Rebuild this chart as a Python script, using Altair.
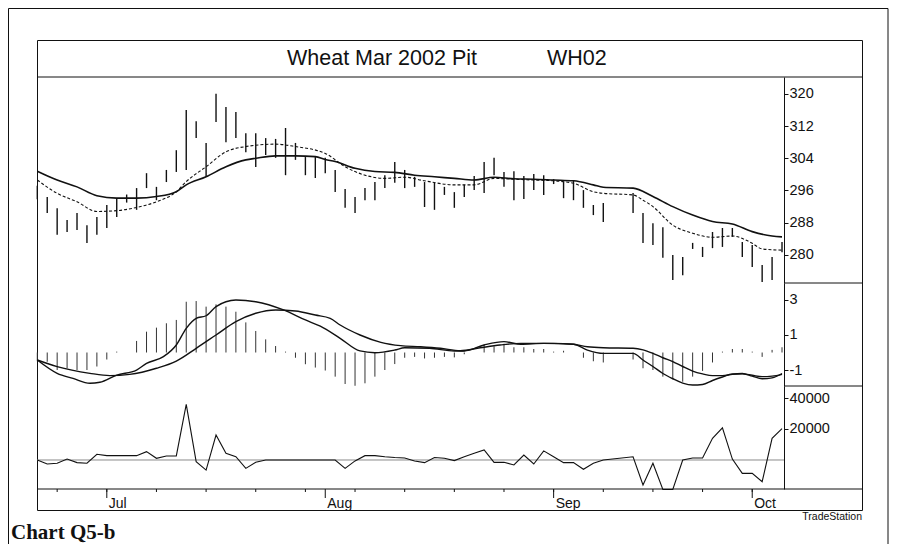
import altair as alt
import pandas as pd

# ---------------- data ----------------
bar_idx = list(range(76))
high = [297.2, 294.4, 291.6, 288.7, 290.4, 287.4, 289.4, 292.4, 294.1, 295.0,
        296.6, 300.3, 296.9, 301.1, 306.0, 316.0, 313.2, 307.8, 320.0, 316.7,
        315.5, 310.2, 310.2, 309.0, 308.8, 311.5, 307.8, 304.3, 304.3, 304.1,
        301.1, 296.4, 294.4, 296.6, 298.1, 299.8, 303.1, 301.1, 299.4, 298.1,
        297.9, 296.9, 295.6, 297.4, 299.6, 303.1, 304.1, 300.6, 300.8, 299.6,
        300.1, 299.8, 298.8, 298.1, 298.6, 296.1, 292.4, 292.9, None, None,
        295.4, 290.4, 287.9, 286.9, 280.0, 279.5, 283.0, 282.0, 285.7, 286.7,
        286.7, 283.2, 282.5, 277.5, 279.5, 283.2]
low = [293.8, 290.4, 285.0, 285.7, 286.2, 283.0, 285.0, 286.7, 289.4, 293.0,
       291.2, 296.6, 293.6, 298.1, 300.6, 301.1, 309.0, 299.4, 313.0, 308.0,
       309.0, 305.5, 301.8, 304.8, 304.1, 299.8, 303.6, 299.8, 299.1, 300.3,
       295.6, 291.7, 290.4, 293.6, 293.6, 296.6, 297.9, 296.6, 296.9, 291.9,
       291.2, 294.9, 291.7, 294.4, 296.1, 295.4, 299.8, 296.9, 293.6, 293.9,
       296.1, 294.9, 297.6, 294.1, 293.6, 291.7, 289.9, 288.2, None, None,
       290.4, 283.0, 282.5, 279.3, 273.8, 275.0, 281.5, 279.5, 281.7, 282.0,
       284.5, 279.5, 277.0, 273.3, 273.8, 280.7]

slow_idx = [0, 2, 4, 6, 8, 10, 12, 14, 15, 17, 19, 21, 22, 24, 26, 28, 29, 30, 32, 34,
            36, 38, 40, 42, 44, 46, 48, 50, 52, 54, 56, 57, 60, 62, 64, 66, 68, 70, 72, 74, 75]
slow_val = [300.8, 298.6, 296.9, 294.7, 294.1, 294.1, 294.5, 295.7, 297.4, 299.4, 301.9,
            303.6, 304.0, 304.6, 304.6, 304.4, 303.7, 303.2, 301.5, 300.7, 300.5, 299.8,
            299.4, 299.0, 298.6, 299.3, 298.9, 298.8, 298.6, 298.4, 297.4, 296.8, 296.6,
            294.5, 292.0, 289.9, 288.3, 287.7, 285.8, 284.7, 284.5]

fast_idx = [0, 2, 4, 6, 8, 10, 12, 14, 15, 17, 19, 21, 24, 26, 29, 31, 33, 35, 37, 39,
            42, 44, 46, 48, 50, 52, 54, 56, 57, 60, 61, 62, 64, 66, 68, 70, 72, 73, 75]
fast_val = [298.6, 295.3, 293.2, 290.8, 291.0, 291.8, 293.2, 295.7, 298.2, 301.9, 305.6,
            306.9, 307.5, 306.9, 305.2, 301.9, 299.8, 299.0, 299.3, 298.4, 297.4, 297.4,
            299.0, 298.8, 298.6, 298.4, 297.8, 295.7, 295.3, 294.9, 293.6, 292.0, 287.4,
            285.4, 284.4, 284.7, 282.9, 281.5, 281.2]

hist = [-0.5, -0.53, -1.0, -0.9, -1.0, -1.0, -0.8, -0.4, 0.05, 0.0,
        0.66, 1.19, 1.42, 1.67, 1.86, 2.9, 2.94, 2.62, 2.75, 2.62,
        2.33, 1.72, 1.23, 0.75, 0.37, 0.05, -0.3, -0.67, -0.86, -1.03,
        -1.38, -1.8, -1.9, -1.76, -1.38, -1.0, -0.66, -0.3, -0.25, -0.34,
        -0.3, -0.25, -0.28, -0.1, 0.0, 0.45, 0.35, 0.5, 0.3, 0.3,
        0.2, 0.2, 0.05, 0.1, 0.0, -0.3, -0.5, -0.57, None, None,
        -0.4, -0.9, -1.0, -1.38, -1.52, -1.67, -1.38, -1.05, -0.57, 0.05,
        0.2, 0.2, 0.05, -0.25, 0.15, 0.3]

macd_idx = [0, 2, 3.6, 5.3, 6.3, 8, 10, 11, 12.7, 14, 15, 16, 17, 18, 20, 22, 24.8, 27,
            28.5, 30.5, 32.5, 34, 36, 37, 39.5, 42, 43, 45, 47, 48.7, 51, 54, 55.4, 57,
            60, 61, 62, 63, 64, 65, 66, 67, 68, 69, 70, 71, 72, 73, 74, 75]
macd_val = [-0.43, -1.19, -1.48, -1.76, -1.7, -1.29, -1.0, -0.62, -0.24, 0.43, 1.38,
            1.95, 2.1, 2.62, 3.0, 2.9, 2.43, 1.86, 1.5, 0.81, 0.09, -0.01, 0.14, 0.27,
            0.24, 0.09, 0.09, 0.43, 0.62, 0.47, 0.52, 0.47, 0.14, -0.05, -0.05, -0.43,
            -0.8, -1.2, -1.5, -1.75, -1.86, -1.83, -1.6, -1.4, -1.22, -1.2, -1.35, -1.5,
            -1.45, -1.2]

sig_idx = [0, 2, 5.3, 7.3, 9.3, 12, 14, 16, 18, 20, 22, 24, 26, 28, 29.5, 30.5, 32.5,
           34.6, 36.6, 38.6, 40.6, 42.6, 44.6, 46.6, 48.7, 52, 54, 55.4, 57, 60, 61, 62,
           63, 64, 65, 66, 67, 68, 69, 70, 71, 72, 73, 74, 75]
sig_val = [-0.43, -0.81, -1.19, -1.32, -1.25, -0.9, -0.49, 0.24, 1.0, 1.76, 2.24, 2.43,
           2.37, 2.14, 1.95, 1.57, 1.0, 0.58, 0.39, 0.33, 0.24, 0.1, 0.27, 0.43, 0.52,
           0.52, 0.47, 0.33, 0.27, 0.24, 0.15, -0.05, -0.3, -0.52, -0.8, -1.06, -1.22,
           -1.32, -1.32, -1.25, -1.22, -1.3, -1.38, -1.35, -1.25]

vol_idx = list(range(58)) + list(range(60, 76))
vol_val = [0, -2600, -2100, 600, -1700, -2100, 3700, 2800, 2800, 2800,
           2800, 5400, 1100, 2600, 2600, 35900, -1100, -6500, 16100, 4300,
           2100, -5400, -1500, 0, 0, 0, 0, 0, 0, 0,
           0, -5400, -600, 2800, 2800, 2100, 1600, 1300, -600, -1700,
           1600, 1100, -400, 2100, 4300, 6500, -1500, -1500, -3200, 3200,
           -2600, 5900, 2100, -1700, -1700, -6000, -2100, 0,
           2100, -16100, -2100, -19000, -19000, 0, 1300, 1300, 14000, 20800,
           600, -8600, -8600, -14000, 14000, 20200]

week_ticks = [2, 7, 12, 17, 22, 27, 32, 37, 42, 47, 52, 57, 62, 67, 72]
month_ticks = [7, 29, 52, 72]
month_labels = ["Jul", "Aug", "Sep", "Oct"]

price_ticks = [280, 288, 296, 304, 312, 320]
macd_ticks = [-1, 1, 3]
vol_ticks = [20000, 40000]

title_left = "Wheat Mar 2002 Pit"
title_right = "WH02"
brand = "TradeStation"
caption = "Chart Q5-b"

# ---------------- layout constants ----------------
W, H = 825, 470          # inner box (plot area of the layered chart)
PW = 747                 # price/indicator plotting width
INK = "#111111"
FONT = "Liberation Sans"

xs = alt.Scale(domain=[-0.03, 75.2], range=[0, PW], nice=False, zero=False)
ps = alt.Scale(domain=[273.05, 324.16], range=[243, 37], nice=False, zero=False)
ms = alt.Scale(domain=[-1.914, 3.971], range=[346, 243], nice=False, zero=False)
vs = alt.Scale(domain=[-18710, 47742], range=[449, 346], nice=False, zero=False)


def raxis(values):
    return alt.Axis(orient="right", offset=-(W - PW), values=values, tickSize=4,
                    tickWidth=1, tickColor=INK, domainColor=INK, domainWidth=1,
                    labelFont=FONT, labelFontSize=14.5, labelColor=INK, labelPadding=1,
                    labelExpr="'' + datum.value", grid=False, title=None,
                    labelOverlap=False, labelFlush=False)


X = lambda: alt.X("idx:Q", scale=xs, axis=None)
one = pd.DataFrame({"k": [0]})

bars_df = pd.DataFrame({"idx": bar_idx, "high": high, "low": low}).dropna()
slow_df = pd.DataFrame({"idx": slow_idx, "v": slow_val})
fast_df = pd.DataFrame({"idx": fast_idx, "v": fast_val})
hist_df = pd.DataFrame({"idx": bar_idx, "h": hist}).dropna()
hist_df["zero"] = 0.0
macd_df = pd.DataFrame({"idx": macd_idx, "v": macd_val})
sig_df = pd.DataFrame({"idx": sig_idx, "v": sig_val})
vol_df = pd.DataFrame({"idx": vol_idx, "v": vol_val})
zero_df = pd.DataFrame({"zero": [0]})
week_df = pd.DataFrame({"idx": week_ticks})
month_df = pd.DataFrame({"idx": month_ticks, "label": month_labels})

# ---------------- layers ----------------
price_bars = alt.Chart(bars_df).mark_rule(color=INK, strokeWidth=1.4).encode(
    x=X(), y=alt.Y("high:Q", scale=ps, axis=raxis(price_ticks)), y2="low:Q")
slow_line = alt.Chart(slow_df).mark_line(color=INK, strokeWidth=1.6, interpolate="monotone").encode(
    x=X(), y=alt.Y("v:Q", scale=ps, axis=None))
fast_line = alt.Chart(fast_df).mark_line(color=INK, strokeWidth=1.1, strokeDash=[3, 2],
                                         interpolate="monotone").encode(
    x=X(), y=alt.Y("v:Q", scale=ps, axis=None))

hist_bars = alt.Chart(hist_df).mark_rule(color="#333333", strokeWidth=1).encode(
    x=X(), y=alt.Y("h:Q", scale=ms, axis=raxis(macd_ticks)), y2="zero:Q")
macd_line = alt.Chart(macd_df).mark_line(color=INK, strokeWidth=1.4, interpolate="monotone").encode(
    x=X(), y=alt.Y("v:Q", scale=ms, axis=None))
sig_line = alt.Chart(sig_df).mark_line(color=INK, strokeWidth=1.4, interpolate="monotone").encode(
    x=X(), y=alt.Y("v:Q", scale=ms, axis=None))

vol_zero = alt.Chart(zero_df).mark_rule(color="#8a8a8a", strokeWidth=1).encode(
    x=alt.value(0), x2=alt.value(PW), y=alt.Y("zero:Q", scale=vs, axis=None))
vol_line = alt.Chart(vol_df).mark_line(color=INK, strokeWidth=1.1).encode(
    x=X(), y=alt.Y("v:Q", scale=vs, axis=raxis(vol_ticks)))

def hrule(x1, x2, y, w=1):
    return alt.Chart(one).mark_rule(color=INK, strokeWidth=w).encode(
        x=alt.value(x1), x2=alt.value(x2), y=alt.value(y))

def vrule(x, y1, y2, w=1):
    return alt.Chart(one).mark_rule(color=INK, strokeWidth=w).encode(
        x=alt.value(x), y=alt.value(y1), y2=alt.value(y2))

title_line = hrule(0, W, 37)
date_line = hrule(0, W, 449)
sep1 = hrule(PW, W, 243)
sep2 = hrule(PW, W, 346)
outer_top = hrule(-28.5, 851, -31.5)
outer_left = vrule(-28.5, -31.5, 510)
outer_right = vrule(851, -31.5, 510)

week_tk = alt.Chart(week_df).mark_rule(color=INK, strokeWidth=1).encode(
    x=X(), y=alt.value(449), y2=alt.value(452))
month_tk = alt.Chart(month_df).mark_rule(color=INK, strokeWidth=1).encode(
    x=X(), y=alt.value(449), y2=alt.value(458))
month_txt = alt.Chart(month_df).mark_text(align="left", baseline="alphabetic", dx=2,
                                          font=FONT, fontSize=14, color=INK).encode(
    x=X(), y=alt.value(467.5), text="label:N")

def label(txt, x, y, size, align="left", font=FONT, weight="normal"):
    return alt.Chart(pd.DataFrame({"t": [txt]})).mark_text(
        align=align, baseline="alphabetic", font=font, fontSize=size,
        fontWeight=weight, color=INK).encode(x=alt.value(x), y=alt.value(y), text="t:N")

t1 = label(title_left, 250, 25, 21.5)
t2 = label(title_right, 510, 25, 21.5)
brand_txt = label(brand, W, 480, 10.5, align="right")
cap_txt = label(caption, -26, 499, 21, font="Liberation Serif", weight="bold")

chart = alt.layer(
    price_bars, slow_line, fast_line,
    hist_bars, macd_line, sig_line,
    vol_zero, vol_line,
    title_line, date_line, sep1, sep2, outer_top, outer_left, outer_right,
    week_tk, month_tk, month_txt, t1, t2, brand_txt, cap_txt,
).resolve_scale(y="independent").properties(
    width=W, height=H,
    autosize=alt.AutoSizeParams(type="none"),
    padding={"left": 29, "top": 32, "right": 27, "bottom": 34},
    background="white",
).configure_view(stroke=INK, strokeWidth=1)

chart.save("out.html", embed_options={"renderer": "svg", "actions": False})
